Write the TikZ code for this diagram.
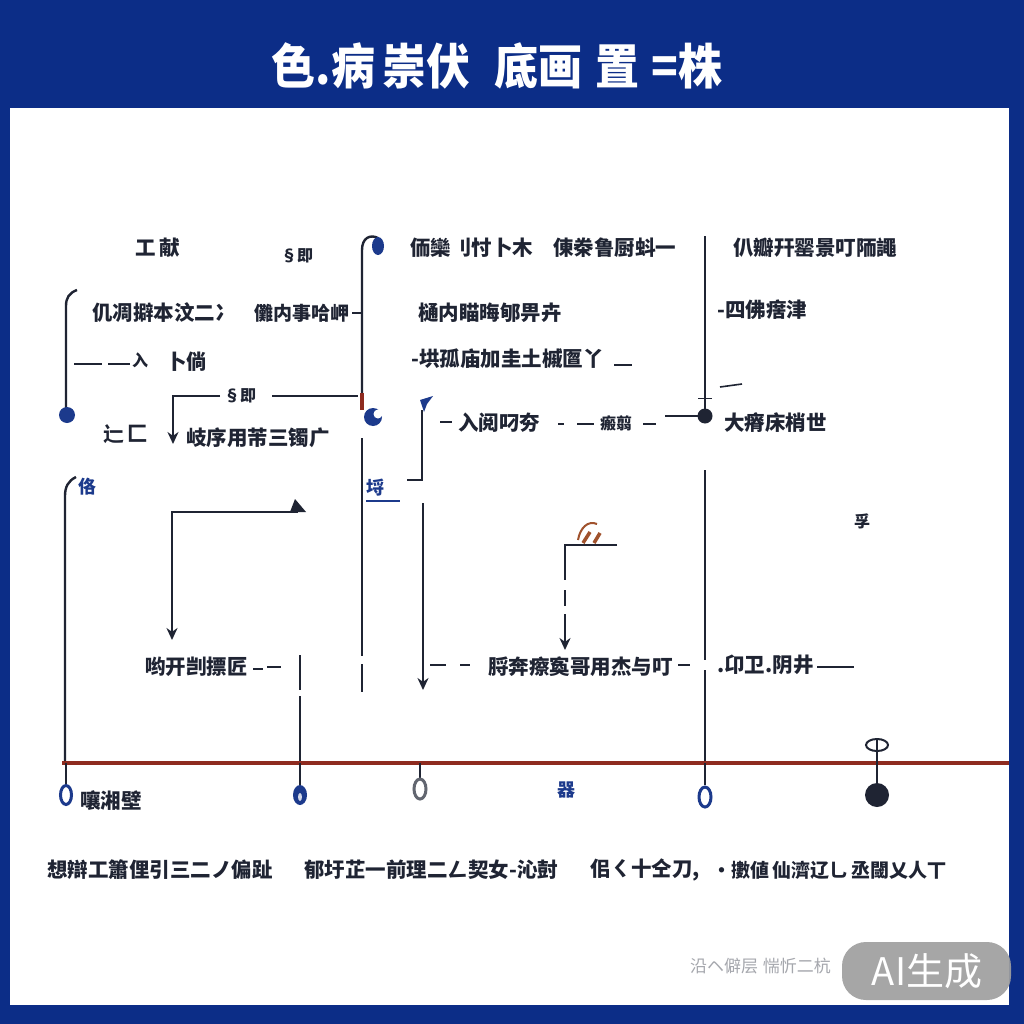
\documentclass[tikz,border=0pt]{standalone}
\usepackage{fontspec}
\newfontfamily\cjk{Noto Sans CJK SC}
\usetikzlibrary{arrows.meta}
\definecolor{navy}{HTML}{0C2D87}
\definecolor{ink}{HTML}{1F2433}
\definecolor{dotblue}{HTML}{1C3A8C}
\definecolor{rust}{HTML}{8E2B1F}
\definecolor{flame}{HTML}{A0522D}
\tikzset{
  ln/.style={draw=ink, line width=2.4pt},
  tx/.style={inner sep=0pt, text=ink, font=\cjk\bfseries\fontsize{20.5}{20.5}\selectfont},
  txm/.style={inner sep=0pt, text=ink, font=\cjk\bfseries\fontsize{19}{19}\selectfont},
  txs/.style={inner sep=0pt, text=ink, font=\cjk\bfseries\fontsize{16}{16}\selectfont},
  bluetx/.style={inner sep=0pt, text=dotblue, font=\cjk\bfseries\fontsize{18}{18}\selectfont},
  pend/.style={draw=dotblue, line width=3pt, fill=white},
  arr/.style={ln, -{Stealth[length=12pt,width=11pt]}},
}
\begin{document}
\begin{tikzpicture}[x=1pt,y=-1pt]
\useasboundingbox (0,0) rectangle (1024,1024);
\fill[navy] (0,0) rectangle (1024,1024);
\fill[white] (10,108) rectangle (1009,1005);
% title
\node[inner sep=0pt, text=white, font=\cjk\bfseries\fontsize{44}{44}\selectfont, yscale=1.1] (title) at (497,66) {色.病\,崇伏\;\;底画\;置\;=株};

% ---------- left block ----------
\node[tx, anchor=west] (t1) at (135,248) {工\,献};
\node[txs, anchor=west] (t2) at (281,256) {§即};
\node[tx, anchor=west] (t3) at (92,313) {仉凋擗本汶二冫};
\node[txm, anchor=west] (t4) at (254,313) {儺内事哈岬};
\node[tx, anchor=west] (t5) at (166,362) {卜倘};
\node[txs] (t5a) at (140,360) {入};
\node[txs, anchor=west] (t6) at (224,396) {§即};
\node[tx, anchor=west] (t7) at (103,434) {辷\,匚};
\node[tx, anchor=west] (t8) at (186,438) {岐序用芾三镯广};

\coordinate (b1a) at (77,290);
\coordinate (b1b) at (66,408);
\draw[ln] (b1a) .. controls (69,293) and (66,298) .. (66,306) -- (b1b);
\fill[dotblue] (67,415) circle (8);
\coordinate (h1a) at (74,364); \coordinate (h1b) at (102,364);
\draw[ln] (h1a) -- (h1b);
\draw[ln] (108,364) -- (130,364);
\coordinate (h2a) at (272,396); \coordinate (h2b) at (358,396);
\draw[ln] (h2a) -- (h2b);
\coordinate (l1a) at (220,396); \coordinate (l1c) at (173,444);
\draw[arr] (l1a) -- (173,396) -- (l1c);
\draw[ln] (352,313) -- (361,313);

% ---------- central spine x=362 ----------
\coordinate (s1) at (362,393);
\draw[ln] (s1) -- (362,250) .. controls (362,238) and (370,234) .. (378,238);
\fill[dotblue] (378,246) ellipse (6 and 9);
\draw[rust, line width=4pt] (362,393) -- (362,410);
\fill[dotblue] (373,417) circle (9);
\fill[white] (378,414) circle (4.5);
\coordinate (s2a) at (362,438); \coordinate (s2b) at (362,692);
\draw[ln] (s2a) -- (362,656); \draw[ln] (362,664) -- (s2b);
\node[bluetx, anchor=west] (t9) at (366,488) {埒};
\draw[dotblue, line width=1.2pt] (366,501) -- (400,501);

% ---------- middle block ----------
\node[tx, anchor=west] (t10) at (410,248) {侕欒刂忖卜木};
\node[tx, anchor=west] (t11) at (553,248) {倲桊鲁厨蚪一};
\node[tx, anchor=west] (t12) at (418,313) {樋内瞄晦郇畀卉};
\node[tx, anchor=west] (t13) at (411,359) {-垬孤庙加圭土槭匫丫};
\draw[ln, line width=1.4pt] (614,365) -- (632,365);
\node[tx, anchor=west] (t14) at (458,423) {入阅叼夯};
\node[txs, anchor=west] (t15) at (600,423) {瘢翦};
\draw[ln] (440,422) -- (452,422);
\draw[ln, line width=1.4pt] (558,424) -- (564,424);
\draw[ln] (577,424) -- (594,424);
\draw[ln] (643,424) -- (656,424);
\coordinate (h3a) at (665,416);
\coordinate (h3b) at (698,416);
\draw[ln] (h3a) -- (h3b);

\coordinate (f1) at (422,410); \coordinate (f2) at (407,480);
\draw[ln] (f1) -- (422,480) -- (f2);
\fill[dotblue] (420,400) -- (433,396) -- (427,404) -- (424,412) -- cycle;
\coordinate (a2a) at (423,503); \coordinate (a2b) at (423,690);
\draw[arr] (a2a) -- (a2b);
\draw[ln] (430,665) -- (446,665);
\draw[ln] (460,665) -- (470,665);
\node[tx, anchor=west] (t16) at (488,667) {脟奔瘵寏哥用杰与叮};
\draw[ln] (678,665) -- (690,665);

% flame icon and arrow
\draw[flame, line width=2pt] (578,540) .. controls (580,528) and (588,520) .. (597,524);
\draw[flame, line width=3.5pt] (583,543) -- (590,532);
\draw[flame, line width=3.5pt] (594,543) -- (600,533);
\coordinate (l3a) at (617,545); \coordinate (l3b) at (565,650);
\draw[ln] (l3a) -- (565,545) -- (565,580);
\draw[ln] (565,590) -- (565,606);
\draw[arr] (565,614) -- (l3b);

% ---------- right block ----------
\node[tx, anchor=west] (t17) at (733,248) {仈瓣幵罂景叮陑譝};
\node[tx, anchor=west] (t18) at (717,310) {-四佛瘔津};
\draw[ln, line width=1.6pt] (720,387) -- (742,384);
\node[tx, anchor=west] (t19) at (724,423) {大瘠床梢世};
\node[txs, anchor=west] (t20) at (854,521) {孚};
\node[tx, anchor=west] (t21) at (717,665) {.卬卫.阴井};
\draw[ln] (817,667) -- (854,667);

\coordinate (r1a) at (705,236); \coordinate (r1b) at (705,410);
\draw[ln] (r1a) -- (r1b);
\draw[ln, line width=1pt] (698,398) -- (712,398);
\fill[ink] (705,416) circle (7.5);
\coordinate (r2a) at (705,470); \coordinate (r2b) at (705,763);
\draw[ln] (r2a) -- (705,660); \draw[ln] (705,670) -- (r2b);

% ---------- lower left ----------
\node[bluetx, anchor=west] (t22) at (78,487) {佫};
\coordinate (v1a) at (76,477); \coordinate (v1b) at (65,763);
\draw[ln] (v1a) .. controls (68,481) and (65,487) .. (65,496) -- (v1b);
\coordinate (l2a) at (172,640); \coordinate (l2b) at (298,512);
\draw[arr] (l2b) -- (172,512) -- (l2a);
\fill[ink] (290,512) -- (306,512) -- (295,499) -- cycle;
\node[tx, anchor=west] (t23) at (145,667) {哟开剀摽匠};
\draw[ln, line width=1.8pt] (253,669) -- (263,669);
\draw[ln] (267,667) -- (281,667);
\coordinate (v2a) at (300,655); \coordinate (v2b) at (300,763);
\draw[ln] (v2a) -- (300,690); \draw[ln] (300,696) -- (v2b);

% ---------- timeline ----------
\coordinate (tl1) at (62,763); \coordinate (tl2) at (1009,763);
\draw[rust, line width=3.5pt] (tl1) -- (tl2);
% pendants
\draw[ln] (66,763) -- (66,785);
\draw[pend] (66,795) ellipse (5.5 and 9.5);
\draw[ln] (300,763) -- (300,785);
\fill[dotblue] (300,795) ellipse (7 and 10);
\fill[white!80!dotblue] (300,797) ellipse (2 and 4);
\draw[ln] (420,763) -- (420,778);
\draw[draw=ink!70, line width=3pt, fill=white] (420,789) ellipse (6 and 10);
\draw[ln] (705,763) -- (705,785);
\draw[pend] (705,797) ellipse (6 and 10);
\draw[ln] (877,740) -- (877,784);
\draw[ink, line width=2pt] (877,745) ellipse (11 and 6);
\fill[ink] (877,795) circle (12);
\node[tx, anchor=west] (t24) at (80,801) {嚷湘壁};
\node[bluetx] (t25) at (566,790) {器};

% ---------- bottom text ----------
\node[tx, anchor=west] (b1) at (47,870) {想辯工簫俚引三二ノ偏趾};
\node[tx, anchor=west] (b2) at (304,870) {郁圩芷一前理二ㄥ契女-沁尌};
\node[tx, anchor=west] (b3) at (590,870) {佀ㄑ十仝刀,};
\node[txm, anchor=west] (b4) at (712,870) {·擻値\,仙濟辽乚\,丞閾乂人丅};

\node[inner sep=0pt, anchor=west, text=ink!40, font=\cjk\fontsize{17}{17}\selectfont] (faint) at (690,966) {沿ヘ僻层\;惴忻二杭};

% badge
\fill[gray!75, opacity=0.92, rounded corners=24pt] (842,942) rectangle (1011,1000);
\node[inner sep=0pt, text=white, font=\cjk\fontsize{38}{38}\selectfont] (badge) at (927,971) {AI生成};
\end{tikzpicture}
\end{document}
